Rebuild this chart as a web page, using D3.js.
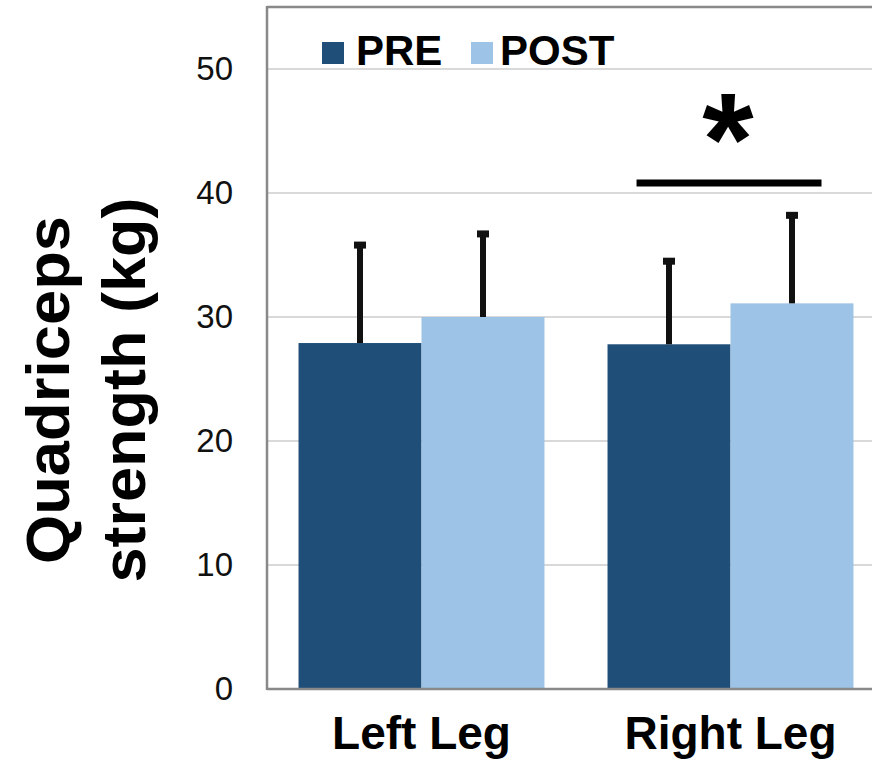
<!DOCTYPE html>
<html>
<head>
<meta charset="utf-8">
<script src="https://cdn.jsdelivr.net/npm/d3@7"></script>
<style>
  html, body { margin: 0; padding: 0; background: #fff; }
  svg { display: block; font-family: "Liberation Sans", Arial, Helvetica, sans-serif; }
</style>
</head>
<body>
<svg id="chart" width="872" height="764"></svg>
<script>
// Quadriceps strength before and after the programme, per leg
const categories = ["Left Leg", "Right Leg"];
const series = ["PRE", "POST"];
const preMeans = [27.9, 27.8];
const postMeans = [30.0, 31.1];
const preSD = [7.9, 6.7];
const postSD = [6.7, 7.1];
const yTicks = [0, 10, 20, 30, 40, 50];
const sigLevel = 40.8;      // height of the significance bracket (kg)
const sigLabel = "*";

const colors = { PRE: "#1F4E79", POST: "#9DC3E6" };

const rows = categories.map((c, i) => ({
  category: c,
  values: [
    { key: "PRE", mean: preMeans[i], sd: preSD[i] },
    { key: "POST", mean: postMeans[i], sd: postSD[i] }
  ]
}));

const svg = d3.select("#chart");
const plotLeft = 267, plotRight = 885, plotTop = 7, plotBottom = 689;

const x = d3.scaleBand().domain(categories).range([plotLeft, plotRight])
  .paddingInner(0.204).paddingOuter(0.102);
const xs = d3.scaleBand().domain(series).range([0, x.bandwidth()]).padding(0);
const y = d3.scaleLinear().domain([0, 55]).range([plotBottom, plotTop]);

// gridlines
svg.append("g").selectAll("line")
  .data(yTicks.filter(t => t > 0))
  .join("line")
  .attr("x1", plotLeft).attr("x2", 872)
  .attr("y1", d => y(d)).attr("y2", d => y(d))
  .attr("stroke", "#d9d9d9").attr("stroke-width", 2);

// y tick labels
const yAxis = d3.axisLeft(y).tickValues(yTicks).tickSize(0).tickPadding(34).tickFormat(d3.format("d"));
const gy = svg.append("g").attr("transform", `translate(${plotLeft},0)`).call(yAxis);
gy.select(".domain").remove();
gy.selectAll("text")
  .attr("font-size", 33)
  .attr("font-family", "'Liberation Sans', Arial, Helvetica, sans-serif")
  .attr("fill", "#111");

// bars
const groups = svg.append("g").selectAll("g")
  .data(rows).join("g")
  .attr("transform", d => `translate(${x(d.category)},0)`);

groups.selectAll("rect")
  .data(d => d.values).join("rect")
  .attr("x", d => xs(d.key))
  .attr("width", xs.bandwidth())
  .attr("y", d => y(d.mean))
  .attr("height", d => y(0) - y(d.mean))
  .attr("fill", d => colors[d.key]);

// error bars (upper only)
groups.selectAll("line.err")
  .data(d => d.values).join("line")
  .attr("class", "err")
  .attr("x1", d => xs(d.key) + xs.bandwidth() / 2)
  .attr("x2", d => xs(d.key) + xs.bandwidth() / 2)
  .attr("y1", d => y(d.mean))
  .attr("y2", d => y(d.mean + d.sd))
  .attr("stroke", "#111").attr("stroke-width", 6);

groups.selectAll("line.cap")
  .data(d => d.values).join("line")
  .attr("class", "cap")
  .attr("x1", d => xs(d.key) + xs.bandwidth() / 2 - 6)
  .attr("x2", d => xs(d.key) + xs.bandwidth() / 2 + 6)
  .attr("y1", d => y(d.mean + d.sd))
  .attr("y2", d => y(d.mean + d.sd))
  .attr("stroke", "#111").attr("stroke-width", 7);

// plot frame
const frame = svg.append("g").attr("stroke", "#898989").attr("stroke-width", 2.5).attr("fill", "none");
frame.append("line").attr("x1", plotLeft).attr("x2", plotLeft).attr("y1", y(55) - 1).attr("y2", plotBottom + 1);
frame.append("line").attr("x1", plotLeft).attr("x2", 872).attr("y1", y(55)).attr("y2", y(55));
frame.append("line").attr("x1", plotLeft).attr("x2", 872).attr("y1", plotBottom).attr("y2", plotBottom);

// significance bracket over the right leg
const sigStart = x("Right Leg") + x.bandwidth() * 0.118;
const sigEnd = x("Right Leg") + x.bandwidth() * 0.87;
svg.append("line")
  .attr("x1", sigStart).attr("x2", sigEnd)
  .attr("y1", y(sigLevel)).attr("y2", y(sigLevel))
  .attr("stroke", "#000").attr("stroke-width", 7);
svg.append("text")
  .attr("x", (sigStart + sigEnd) / 2 - 1)
  .attr("y", y(sigLevel) + 2)
  .attr("text-anchor", "middle")
  .attr("font-size", 132).attr("font-weight", "bold")
  .attr("fill", "#000")
  .text(sigLabel);

// x category labels
svg.append("g").selectAll("text")
  .data(categories).join("text")
  .attr("x", d => x(d) + x.bandwidth() / 2)
  .attr("y", 749)
  .attr("text-anchor", "middle")
  .attr("font-size", 46).attr("font-weight", "bold")
  .attr("fill", "#000")
  .text(d => d);

// y axis title, two lines rotated
const title = svg.append("text")
  .attr("transform", "translate(0,390) rotate(-90)")
  .attr("text-anchor", "middle")
  .attr("font-size", 62).attr("font-weight", "bold").attr("fill", "#000");
title.append("tspan").attr("x", 0).attr("y", 69).attr("textLength", 348).attr("lengthAdjust", "spacingAndGlyphs").text("Quadriceps");
title.append("tspan").attr("x", 0).attr("y", 145).attr("textLength", 385).attr("lengthAdjust", "spacingAndGlyphs").text("strength (kg)");

// legend
const legend = svg.append("g").selectAll("g")
  .data(series).join("g")
  .attr("transform", (d, i) => `translate(${[322, 471][i]},42)`);
legend.append("rect").attr("width", 22).attr("height", 22).attr("fill", d => colors[d]);
legend.append("text")
  .attr("x", (d, i) => [34, 29][i]).attr("y", 23)
  .attr("font-size", 42).attr("font-weight", "bold").attr("fill", "#000")
  .text(d => d);
</script>
</body>
</html>
